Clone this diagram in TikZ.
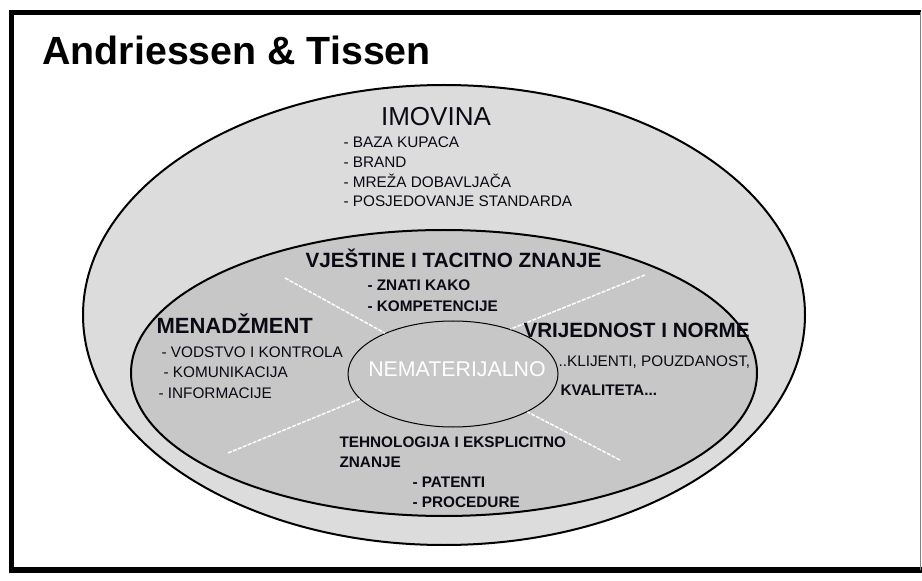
\documentclass[tikz,border=0pt]{standalone}
\usepackage{fontspec}
\setmainfont{Liberation Sans}
\usetikzlibrary{shapes.geometric}

\definecolor{outerfill}{RGB}{220,220,220}
\definecolor{innerfill}{RGB}{199,199,199}
\definecolor{inkdark}{RGB}{10,10,20}

\tikzset{every picture/.style={line width=0.75pt}}
\tikzset{
  divider/.style={draw=white, line width=1.1pt, dash pattern=on 3pt off 1pt},
  heading/.style={anchor=base west, inner sep=0pt, text=inkdark, font=\fontsize{15.5}{18}\selectfont\bfseries},
  item/.style={anchor=base west, inner sep=0pt, text=inkdark, font=\fontsize{11.5}{13}\selectfont},
  bolditem/.style={item, font=\fontsize{11.5}{13}\selectfont\bfseries},
}

\begin{document}
\begin{tikzpicture}[x=0.75pt,y=0.75pt,yscale=-1,xscale=1]
\useasboundingbox (0,0) rectangle (922,581);

%Shape: Frame
\draw [line width=3.75pt] (11,570) -- (11,12.5) -- (921,12.5) ;
\draw [line width=4.5pt] (9,570) -- (922,570) ;
\draw [draw=gray] (920.5,12.5) -- (920.5,570) ;

%Shape: Ellipse (outer)
\draw [fill=outerfill, line width=1.5pt] (444,315) circle [x radius=361, y radius=230] ;
%Shape: Ellipse (inner)
\draw [fill=innerfill, line width=1.5pt] (444,373) circle [x radius=313, y radius=143] ;
%Shape: Ellipse (core)
\node (core) [ellipse, draw, minimum width=157.5pt, minimum height=79.5pt, inner sep=0pt] at (453,374) {} ;

%Straight Lines
\coordinate (ulEnd) at (285,278) ;
\coordinate (urEnd) at (645,275) ;
\coordinate (llEnd) at (228,453) ;
\coordinate (lrEnd) at (620,460) ;
\draw [divider] (ulEnd) -- (core.149) ;
\draw [divider] (urEnd) -- (core.38) ;
\draw [divider] (llEnd) -- (core.195) ;
\draw [divider] (lrEnd) -- (core.333) ;

% Text Node
\draw (42,65) node (title) [anchor=base west, inner sep=0pt, font=\fontsize{29.5}{34}\selectfont\bfseries] {Andriessen \& Tissen};
% Text Node
\draw (436,126) node (imovina) [anchor=base, inner sep=0pt, text=inkdark, font=\fontsize{19.5}{22}\selectfont] {IMOVINA};
\draw (343,148) node (imov1) [item] {- BAZA KUPACA};
\draw (343,168) node (imov2) [item] {- BRAND};
\draw (343,188) node (imov3) [item] {- MREŽA DOBAVLJAČA};
\draw (343,207) node (imov4) [item] {- POSJEDOVANJE STANDARDA};
% Text Node
\draw (305,268) node (vjestine) [heading] {VJEŠTINE I TACITNO ZNANJE};
\draw (367,291) node (vjest1) [bolditem] {- ZNATI KAKO};
\draw (367,311) node (vjest2) [bolditem] {- KOMPETENCIJE};
% Text Node
\draw (156,334) node (menadzment) [heading, font=\fontsize{16.5}{19}\selectfont\bfseries] {MENADŽMENT};
\draw (161,358) node (men1) [item] {- VODSTVO I KONTROLA};
\draw (163,378) node (men2) [item] {- KOMUNIKACIJA};
\draw (158,398) node (men3) [item] {- INFORMACIJE};
% Text Node
\draw (523,337) node (vrijednost) [heading] {VRIJEDNOST I NORME};
\draw (558,367) node (vrij1) [item] {..KLIJENTI, POUZDANOST,};
\draw (560,395) node (vrij2) [bolditem] {KVALITETA...};
% Text Node
\draw (339,447) node (tehno) [bolditem] {TEHNOLOGIJA I EKSPLICITNO};
\draw (339,467) node (tehno2) [bolditem] {ZNANJE};
\draw (412,487) node (teh1) [bolditem] {- PATENTI};
\draw (412,507) node (teh2) [bolditem] {- PROCEDURE};
% Text Node
\draw (457,377) node (nemat) [anchor=base, inner sep=0pt, text=white, font=\fontsize{16}{19}\selectfont] {NEMATERIJALNO};

\end{tikzpicture}
\end{document}
